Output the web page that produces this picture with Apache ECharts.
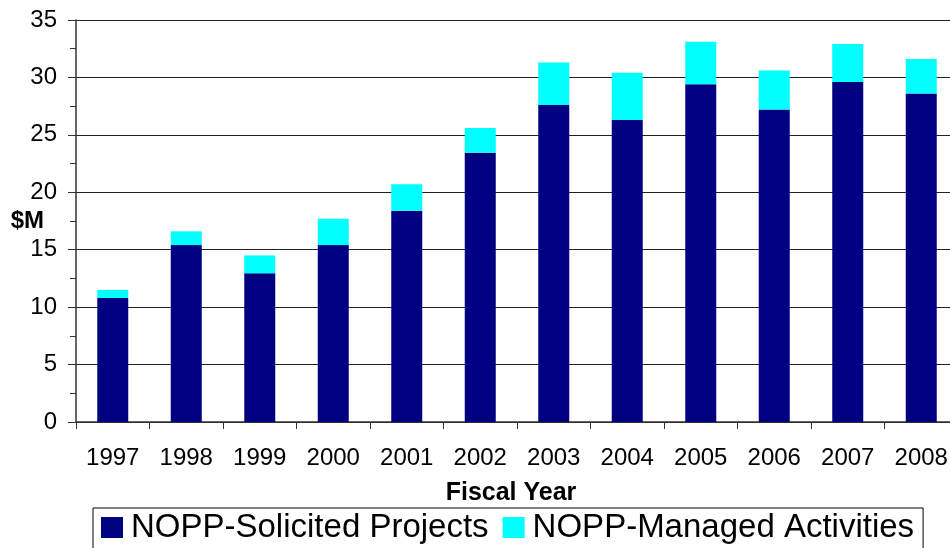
<!DOCTYPE html>
<html>
<head>
<meta charset="utf-8">
<script src="https://cdn.jsdelivr.net/npm/echarts@6/dist/echarts.min.js"></script>
<style>
  html, body { margin: 0; padding: 0; background: #fff; }
  #chart { width: 950px; height: 548px; }
</style>
</head>
<body>
<div id="chart"></div>
<script>
// fiscal years and funding ($M)
var years = ['1997', '1998', '1999', '2000', '2001', '2002', '2003', '2004', '2005', '2006', '2007', '2008'];
var solicited = [10.8, 15.4, 12.95, 15.4, 18.4, 23.45, 27.6, 26.3, 29.4, 27.2, 29.6, 28.6];
var managed = [0.7, 1.2, 1.55, 2.3, 2.3, 2.15, 3.7, 4.1, 3.7, 3.4, 3.3, 3.0];
var yTicks = [0, 5, 10, 15, 20, 25, 30, 35];

var fontFamily = '"Liberation Sans", Arial, sans-serif';
var chart = echarts.init(document.getElementById('chart'));

chart.setOption({
    animation: false,
    textStyle: { fontFamily: fontFamily },
    grid: {
        left: 76,
        top: 20,
        width: 882,
        height: 402,
        containLabel: false,
        outerBoundsMode: 'none'
    },
    legend: {
        left: 93,
        top: 508,
        itemWidth: 22,
        itemHeight: 21,
        itemGap: 14,
        icon: 'rect',
        borderColor: '#000',
        borderWidth: 1,
        padding: [3, 9, 30, 8],
        textStyle: { fontSize: 33, color: '#000', fontFamily: fontFamily, padding: [0, 0, 0, 3] },
        data: ['NOPP-Solicited Projects', 'NOPP-Managed Activities']
    },
    xAxis: {
        type: 'category',
        data: years,
        name: 'Fiscal Year',
        nameLocation: 'middle',
        nameGap: 59,
        nameMoveOverlap: false,
        nameTextStyle: { fontSize: 25, fontWeight: 'bold', color: '#000', padding: [0, 12, 0, 0] },
        axisLine: { lineStyle: { color: '#333', width: 1.5 } },
        axisTick: { show: true, length: 7, lineStyle: { color: '#333' } },
        axisLabel: { fontSize: 24, color: '#000', margin: 24 }
    },
    yAxis: {
        type: 'value',
        min: yTicks[0],
        max: yTicks[yTicks.length - 1],
        interval: 5,
        name: '$M',
        nameLocation: 'middle',
        nameRotate: 0,
        nameGap: 32,
        nameMoveOverlap: false,
        nameTextStyle: { fontSize: 24, fontWeight: 'bold', color: '#000' },
        axisLine: { show: true, lineStyle: { color: '#333', width: 1.5 } },
        axisTick: { show: true, length: 8, lineStyle: { color: '#333' } },
        minorTick: { show: true, splitNumber: 2, length: 6, lineStyle: { color: '#333' } },
        axisLabel: { fontSize: 24, color: '#000', margin: 19 },
        splitLine: { lineStyle: { color: '#222', width: 1.2 } }
    },
    series: [
        {
            name: 'NOPP-Solicited Projects',
            type: 'bar',
            stack: 'total',
            barWidth: 31,
            itemStyle: { color: '#000080' },
            data: solicited
        },
        {
            name: 'NOPP-Managed Activities',
            type: 'bar',
            stack: 'total',
            barWidth: 31,
            itemStyle: { color: '#00FFFF' },
            data: managed
        }
    ]
});
</script>
</body>
</html>
